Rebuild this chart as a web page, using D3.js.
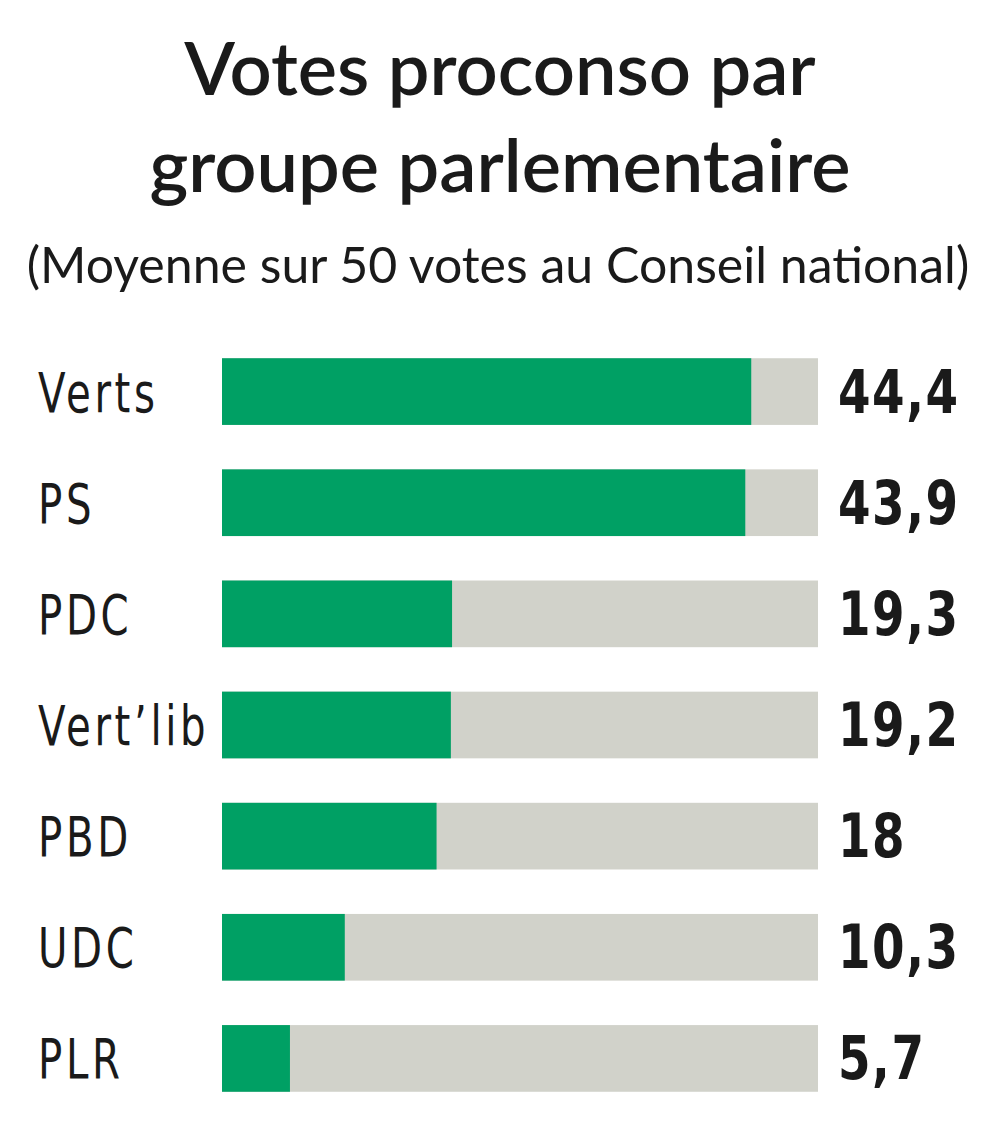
<!DOCTYPE html>
<html><head><meta charset="utf-8">
<script src="https://cdn.jsdelivr.net/npm/d3@7"></script>
<style>body{margin:0;background:#fff}</style>
</head><body>
<svg id="chart" width="1000" height="1138"></svg>
<script>
const groups = ["Verts", "PS", "PDC", "Vert\u2019lib", "PBD", "UDC", "PLR"];
const values = [44.4, 43.9, 19.3, 19.2, 18, 10.3, 5.7];
const valueLabels = ["44,4", "43,9", "19,3", "19,2", "18", "10,3", "5,7"];
const maxVotes = 50;

const svg = d3.select("#chart");
const x = d3.scaleLinear().domain([0, maxVotes]).range([222, 818]);
const y = d3.scaleBand().domain(groups).range([336, 1114]).paddingInner(0.4).paddingOuter(0.2);

// title
svg.append("text").attr("x", 500).attr("y", 95).attr("text-anchor", "middle")
  .style("font", "600 74px Lato, 'Open Sans', sans-serif").attr("fill", "#1a1a1a").text("Votes proconso par");
svg.append("text").attr("x", 500).attr("y", 192).attr("text-anchor", "middle")
  .style("font", "600 74px Lato, 'Open Sans', sans-serif").attr("fill", "#1a1a1a").text("groupe parlementaire");
svg.append("text").attr("x", 498).attr("y", 283).attr("text-anchor", "middle")
  .style("font", "400 50px Lato, 'Open Sans', sans-serif").attr("fill", "#1a1a1a").text("(Moyenne sur 50 votes au Conseil national)");

const rows = svg.selectAll("g.row").data(groups).enter().append("g").attr("class", "row");

rows.append("rect").attr("x", x(0)).attr("y", d => y(d))
  .attr("width", x(maxVotes) - x(0)).attr("height", y.bandwidth()).attr("fill", "#d1d2ca");
rows.append("rect").attr("x", x(0)).attr("y", d => y(d))
  .attr("width", (d, i) => x(values[i]) - x(0)).attr("height", y.bandwidth()).attr("fill", "#00a064");

rows.append("text")
  .attr("transform", d => `translate(38,${y(d) + y.bandwidth() / 2 + 20}) scale(0.72,1)`)
  .style("font", "400 56px 'DejaVu Sans', sans-serif")
  .style("letter-spacing", "5px").attr("fill", "#1a1a1a").text(d => d);
rows.append("text")
  .attr("transform", d => `translate(838,${y(d) + y.bandwidth() / 2 + 21}) scale(0.78,1)`)
  .style("font", "700 60px 'DejaVu Sans', sans-serif")
  .style("letter-spacing", "2px").attr("fill", "#1a1a1a").text((d, i) => valueLabels[i]);
</script>
</body></html>
